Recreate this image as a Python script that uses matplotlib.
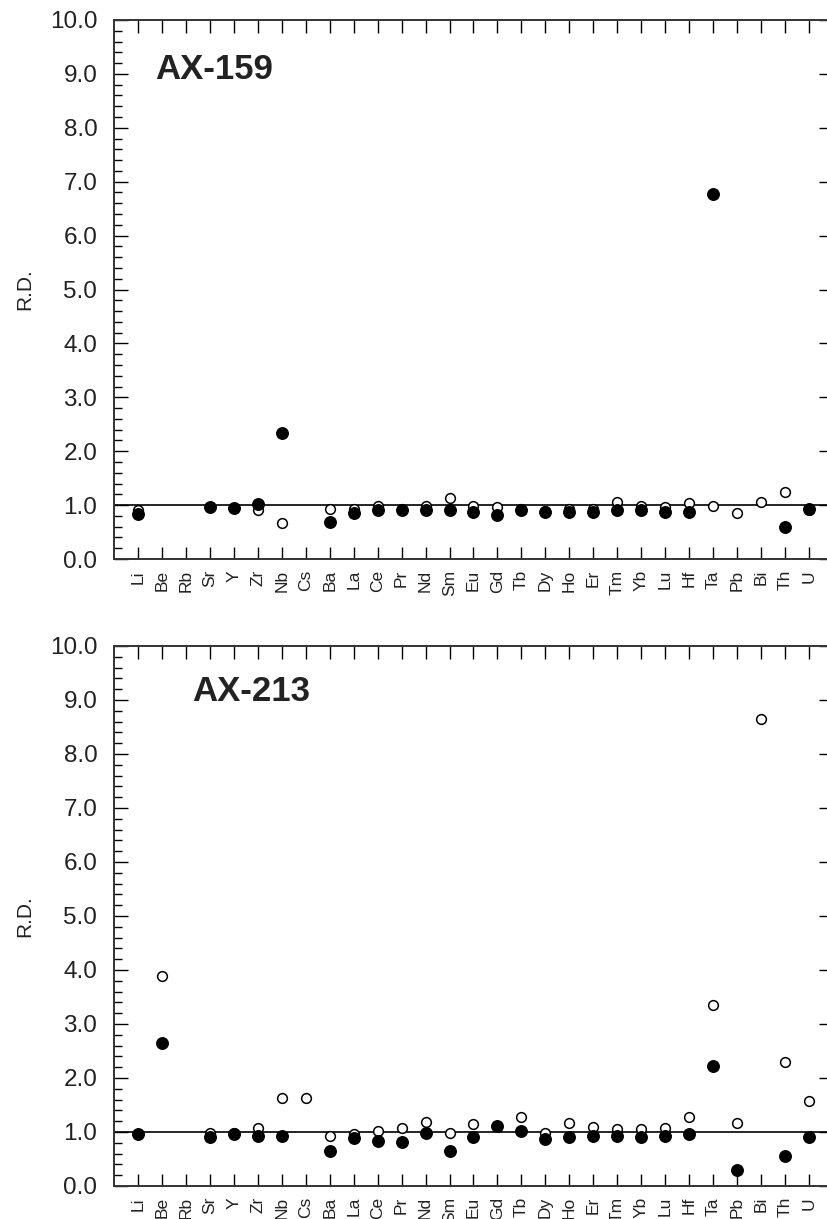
import numpy as np
import matplotlib.pyplot as plt
from matplotlib.ticker import MultipleLocator, FormatStrFormatter

plt.rcParams['font.family'] = ['Liberation Sans', 'DejaVu Sans']

elements = ['Li', 'Be', 'Rb', 'Sr', 'Y', 'Zr', 'Nb', 'Cs', 'Ba', 'La', 'Ce', 'Pr',
            'Nd', 'Sm', 'Eu', 'Gd', 'Tb', 'Dy', 'Ho', 'Er', 'Tm', 'Yb', 'Lu', 'Hf',
            'Ta', 'Pb', 'Bi', 'Th', 'U']
nan = np.nan

# AX-159
ax159_filled = [0.83, nan, nan, 0.96, 0.95, 1.02, 2.33, nan, 0.69, 0.86, 0.90, 0.90,
                0.90, 0.90, 0.87, 0.82, 0.91, 0.88, 0.88, 0.88, 0.90, 0.90, 0.87, 0.87,
                6.77, nan, nan, 0.59, 0.92]
ax159_open = [0.90, nan, nan, 0.97, 0.95, 0.91, 0.67, nan, 0.93, 0.93, 0.98, 0.92,
              0.98, 1.13, 0.98, 0.96, 0.92, 0.89, 0.93, 0.93, 1.06, 0.98, 0.96, 1.03,
              0.99, 0.85, 1.06, 1.24, 0.91]

# AX-213
ax213_filled = [0.97, 2.65, nan, 0.90, 0.96, 0.93, 0.93, nan, 0.65, 0.89, 0.84, 0.82,
                0.99, 0.65, 0.91, 1.12, 1.02, 0.87, 0.91, 0.93, 0.93, 0.91, 0.93, 0.96,
                2.23, 0.30, nan, 0.55, 0.91]
ax213_open = [0.97, 3.88, nan, 0.98, 0.98, 1.08, 1.63, 1.63, 0.93, 0.96, 1.02, 1.07,
              1.18, 0.98, 1.14, 1.12, 1.27, 0.99, 1.17, 1.10, 1.05, 1.05, 1.07, 1.27,
              3.35, 1.17, 8.65, 2.30, 1.58]

panels = [('AX-159', ax159_filled, ax159_open, (0.7, 8.9)),
          ('AX-213', ax213_filled, ax213_open, (2.25, 8.98))]

fig = plt.figure(figsize=(8.27, 12.19), dpi=100)
W, H = 827, 1219
boxes = [(114, 20, 833, 559), (114, 646, 833, 1186)]

x = np.arange(len(elements))
for (name, filled, opn, tpos), (l, t, r, b) in zip(panels, boxes):
    ax = fig.add_axes([l / W, 1 - b / H, (r - l) / W, (b - t) / H])
    # reference line at R.D. = 1
    ax.axhline(1.0, color='black', lw=1.2, zorder=1)
    ax.plot(x, opn, 'o', ms=7, mfc='white', mec='black', mew=1.1, ls='none', zorder=2)
    ax.plot(x, filled, 'o', ms=8.3, mfc='black', mec='black', ls='none', zorder=3)
    ax.set_xlim(-1, 29)
    ax.set_ylim(0, 10)
    ax.set_xticks(x)
    ax.set_xticklabels(elements, rotation=90, fontsize=12.5, color='#222222')
    ax.yaxis.set_major_locator(MultipleLocator(1.0))
    ax.yaxis.set_minor_locator(MultipleLocator(0.2))
    ax.yaxis.set_major_formatter(FormatStrFormatter('%.1f'))
    ax.tick_params(axis='y', which='major', direction='in', length=10, width=1,
                   left=True, right=True, labelsize=17.5, pad=12, labelcolor='#222222')
    ax.tick_params(axis='y', which='minor', direction='in', length=6, width=1,
                   left=True, right=False)
    ax.tick_params(axis='x', which='major', direction='in', length=9, width=1,
                   top=True, bottom=True, pad=8)
    for s in ax.spines.values():
        s.set_linewidth(1.4)
        s.set_color('#333333')
    ax.set_ylabel('R.D.', fontsize=15, color='#222222')
    ax.yaxis.set_label_coords(-0.111, 0.5)
    ax.text(tpos[0], tpos[1], name, fontsize=25, fontweight='bold',
            ha='left', va='baseline', color='#222222')

fig.savefig('out.png', dpi=100)
